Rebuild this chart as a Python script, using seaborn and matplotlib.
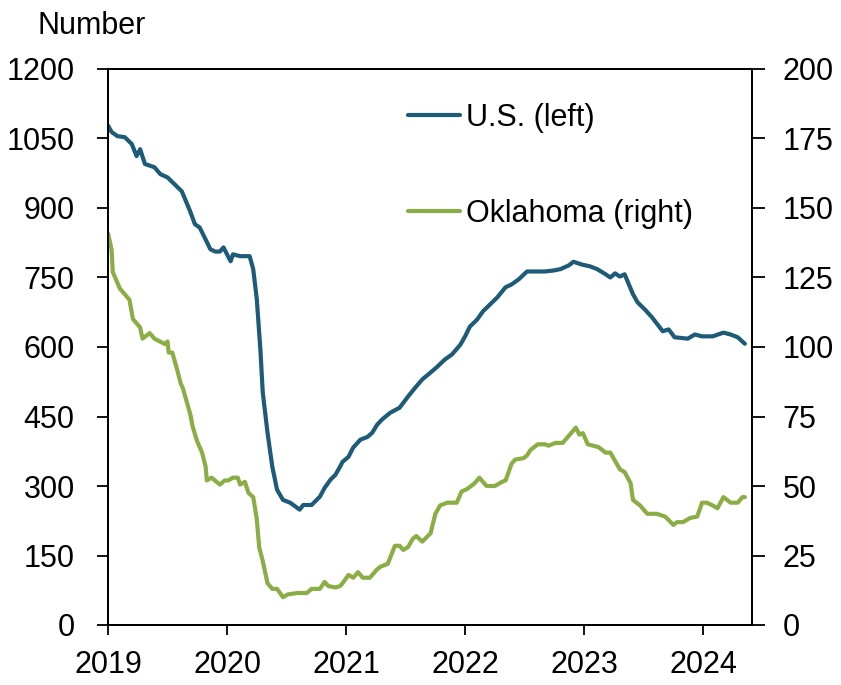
import numpy as np
import pandas as pd
import matplotlib
matplotlib.use("Agg")
import matplotlib.pyplot as plt
import seaborn as sns

# rig counts (x in decimal years)
us_year = [2019.00, 2019.03, 2019.08, 2019.14, 2019.20, 2019.24, 2019.27, 2019.31, 2019.39, 2019.44,
           2019.50, 2019.56, 2019.62, 2019.69, 2019.73, 2019.77, 2019.82, 2019.86, 2019.90, 2019.94,
           2019.97, 2020.03, 2020.05, 2020.11, 2020.19, 2020.22, 2020.25, 2020.28, 2020.30, 2020.34,
           2020.38, 2020.42, 2020.47, 2020.53, 2020.61, 2020.64, 2020.71, 2020.78, 2020.82, 2020.87,
           2020.91, 2020.95, 2020.97, 2021.02, 2021.06, 2021.12, 2021.18, 2021.22, 2021.26, 2021.30,
           2021.37, 2021.45, 2021.52, 2021.58, 2021.64, 2021.71, 2021.76, 2021.83, 2021.89, 2021.96,
           2022.00, 2022.04, 2022.10, 2022.15, 2022.21, 2022.27, 2022.34, 2022.39, 2022.45, 2022.52,
           2022.59, 2022.67, 2022.74, 2022.80, 2022.87, 2022.91, 2022.98, 2023.05, 2023.11, 2023.18,
           2023.22, 2023.26, 2023.30, 2023.34, 2023.41, 2023.45, 2023.51, 2023.57, 2023.66, 2023.71,
           2023.76, 2023.87, 2023.93, 2023.99, 2024.08, 2024.17, 2024.23, 2024.29, 2024.35]
us_rigs = [1078, 1064, 1055, 1053, 1038, 1012, 1027, 995, 988, 973,
           966, 951, 936, 893, 865, 858, 832, 811, 806, 806,
           815, 785, 800, 796, 796, 768, 703, 595, 502, 415,
           342, 292, 270, 264, 249, 259, 259, 277, 296, 314,
           324, 342, 352, 363, 383, 400, 406, 415, 432, 443,
           458, 469, 493, 512, 530, 545, 556, 573, 584, 605,
           623, 644, 659, 677, 692, 707, 729, 735, 746, 763,
           763, 763, 765, 768, 776, 784, 778, 774, 768, 757,
           750, 759, 752, 757, 714, 696, 681, 664, 634, 638,
           621, 618, 627, 623, 623, 631, 627, 621, 607]

ok_year = [2019.00, 2019.03, 2019.04, 2019.10, 2019.18, 2019.21, 2019.27, 2019.29, 2019.35, 2019.39,
           2019.48, 2019.50, 2019.51, 2019.54, 2019.58, 2019.61, 2019.63, 2019.67, 2019.69, 2019.71,
           2019.71, 2019.75, 2019.79, 2019.82, 2019.83, 2019.87, 2019.94, 2019.98, 2020.01, 2020.05,
           2020.09, 2020.11, 2020.15, 2020.18, 2020.22, 2020.25, 2020.27, 2020.30, 2020.34, 2020.38,
           2020.42, 2020.47, 2020.51, 2020.59, 2020.67, 2020.71, 2020.78, 2020.82, 2020.85, 2020.91,
           2020.95, 2020.97, 2021.02, 2021.06, 2021.10, 2021.14, 2021.20, 2021.26, 2021.29, 2021.35,
           2021.41, 2021.45, 2021.48, 2021.52, 2021.56, 2021.59, 2021.64, 2021.71, 2021.75, 2021.79,
           2021.85, 2021.93, 2021.97, 2022.02, 2022.08, 2022.12, 2022.18, 2022.25, 2022.31, 2022.34,
           2022.39, 2022.42, 2022.49, 2022.52, 2022.55, 2022.61, 2022.67, 2022.70, 2022.76, 2022.82,
           2022.87, 2022.93, 2022.96, 2022.99, 2023.03, 2023.12, 2023.18, 2023.22, 2023.26, 2023.30,
           2023.34, 2023.39, 2023.41, 2023.47, 2023.53, 2023.61, 2023.68, 2023.75, 2023.78, 2023.83,
           2023.89, 2023.95, 2023.99, 2024.03, 2024.08, 2024.12, 2024.17, 2024.23, 2024.29, 2024.33,
           2024.35]
ok_rigs = [141, 135, 127, 121, 117, 110, 107, 103, 105, 103,
           101, 102, 98, 98, 92, 87, 85, 79, 76, 76,
           67, 66, 62, 57, 52, 53, 50.5, 52, 52, 53,
           53, 50.5, 51.5, 47.5, 46, 38, 28, 23, 15, 13,
           13, 10, 11, 11.5, 11.5, 13, 13, 15.5, 14, 13.5,
           14, 15, 18, 17, 19, 17, 17, 20, 21, 22,
           28.5, 28.5, 27, 28, 31, 32, 30, 33, 40, 43,
           44, 44, 48, 49, 51, 53, 50, 50, 51.5, 52,
           58, 59.5, 60, 61, 63, 65, 65, 64.5, 65.5, 65.5,
           68, 71, 68.5, 69, 65, 64, 62, 62, 59, 56,
           55, 51, 45, 43, 40, 40, 39, 36, 37, 37,
           38.5, 39, 44, 44, 43, 42, 46, 44, 44, 46,
           46]

year_ticks = [2019, 2020, 2021, 2022, 2023, 2024]
left_ticks = np.arange(0, 1201, 150)
right_ticks = np.arange(0, 201, 25)

us_df = pd.DataFrame({"year": us_year, "rigs": us_rigs})
ok_df = pd.DataFrame({"year": ok_year, "rigs": ok_rigs})

BLUE = "#1d5b78"
GREEN = "#8aae45"
FS = 22

sns.set_style("ticks")
plt.rcParams["font.family"] = ["Liberation Sans", "DejaVu Sans"]
plt.rcParams["font.size"] = FS
for k in ("text.color", "xtick.color", "ytick.color", "axes.labelcolor", "axes.edgecolor"):
    plt.rcParams[k] = "black"

fig = plt.figure(figsize=(8.41, 6.85), dpi=100)
ax = fig.add_axes([108 / 841, 1 - 625 / 685, (752 - 108) / 841, (625 - 69) / 685])
ax2 = ax.twinx()

sns.lineplot(data=us_df, x="year", y="rigs", ax=ax, color=BLUE, lw=3.0, label="U.S. (left)", legend=False)
sns.lineplot(data=ok_df, x="year", y="rigs", ax=ax2, color=GREEN, lw=3.0, label="Oklahoma (right)", legend=False)

ax.set_xlim(2019, 2024.41)
ax.set_ylim(0, 1200)
ax2.set_ylim(0, 200)
ax.set_xticks(year_ticks)
ax.set_xticklabels([str(y) for y in year_ticks])
ax.set_yticks(left_ticks)
ax2.set_yticks(right_ticks)
ax.set_xlabel("")
ax.set_ylabel("")
ax2.set_ylabel("")

for a in (ax, ax2):
    for s in a.spines.values():
        s.set_visible(True)
        s.set_color("black")
        s.set_linewidth(1.3)
ax.tick_params(axis="y", direction="out", length=8, width=1.3, pad=16, labelsize=FS)
ax.tick_params(axis="x", direction="out", length=7, width=1.3, pad=11, labelsize=FS)
ax2.tick_params(axis="y", direction="out", length=9, width=1.3, pad=13, labelsize=FS)

fig.text(37 / 841, 1 - 34 / 685, "Number", fontsize=FS, ha="left", va="baseline")

h1, l1 = ax.get_legend_handles_labels()
h2, l2 = ax2.get_legend_handles_labels()
ax2.legend(h1 + h2, l1 + l2, loc="upper left", bbox_to_anchor=(408 / 841, 1 - 103 / 685),
           bbox_transform=fig.transFigure, frameon=False, borderpad=0, borderaxespad=0,
           handlelength=1.7, handletextpad=0.2, labelspacing=2.15, fontsize=FS)

fig.savefig("out.png", dpi=100)
